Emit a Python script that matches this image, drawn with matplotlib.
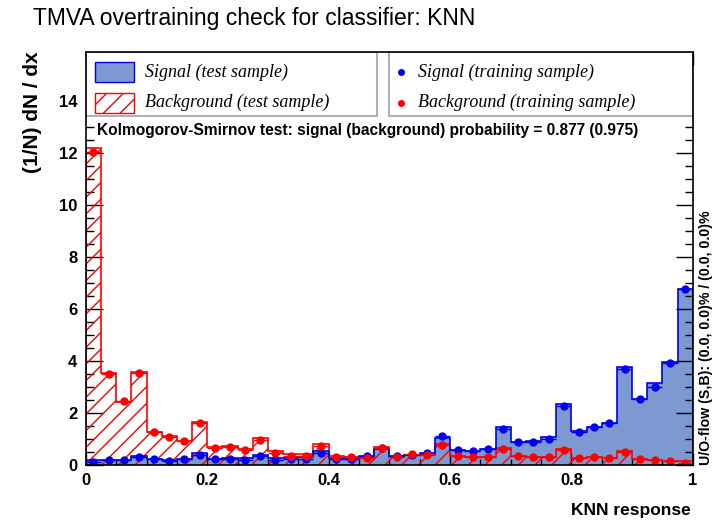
import numpy as np
import matplotlib
matplotlib.use("Agg")
import matplotlib.pyplot as plt
from matplotlib.patches import Rectangle
from matplotlib.ticker import MultipleLocator

# 40 bins on [0, 1]
edges = np.linspace(0, 1, 41)
centers = 0.5 * (edges[1:] + edges[:-1])

sig_test = [0.18, 0.20, 0.20, 0.33, 0.22, 0.20, 0.22, 0.45, 0.22, 0.26,
            0.26, 0.38, 0.26, 0.28, 0.30, 0.55, 0.26, 0.26, 0.35, 0.62,
            0.36, 0.40, 0.47, 1.05, 0.58, 0.55, 0.60, 1.45, 0.87, 0.92,
            1.08, 2.33, 1.31, 1.45, 1.60, 3.76, 2.53, 3.14, 3.95, 6.77]
sig_train = [0.12, 0.19, 0.19, 0.29, 0.22, 0.17, 0.22, 0.38, 0.22, 0.24,
             0.19, 0.36, 0.19, 0.22, 0.22, 0.45, 0.22, 0.22, 0.35, 0.64,
             0.35, 0.38, 0.45, 1.12, 0.58, 0.55, 0.60, 1.37, 0.87, 0.87,
             1.00, 2.27, 1.27, 1.47, 1.60, 3.70, 2.53, 3.01, 3.91, 6.77]
bkg_test = [12.20, 3.55, 2.42, 3.58, 1.26, 1.10, 0.94, 1.64, 0.70, 0.72,
            0.62, 1.03, 0.53, 0.41, 0.41, 0.80, 0.35, 0.30, 0.30, 0.68,
            0.32, 0.40, 0.40, 0.80, 0.36, 0.30, 0.30, 0.65, 0.36, 0.30,
            0.32, 0.62, 0.27, 0.29, 0.27, 0.55, 0.22, 0.19, 0.16, 0.15]
bkg_train = [12.05, 3.50, 2.47, 3.55, 1.26, 1.09, 0.92, 1.60, 0.65, 0.71,
             0.58, 0.96, 0.45, 0.35, 0.35, 0.73, 0.29, 0.29, 0.26, 0.64,
             0.32, 0.41, 0.39, 0.77, 0.35, 0.29, 0.29, 0.60, 0.36, 0.29,
             0.32, 0.58, 0.26, 0.29, 0.26, 0.49, 0.22, 0.19, 0.15, 0.09]

sig_fill = "#7d99d1"
sig_line = "#0000ee"
bkg_line = "#ff0000"

plt.rcParams["font.family"] = ["Liberation Sans", "DejaVu Sans"]
plt.rcParams["hatch.linewidth"] = 1.0

fig = plt.figure(figsize=(7.15, 5.27), dpi=100)
ax = fig.add_axes([0.120, 0.1176, 0.849, 0.7838])

ax.stairs(sig_test, edges, fill=True, color=sig_fill, zorder=1)
ax.stairs(bkg_test, edges, fill=True, facecolor="none", edgecolor=bkg_line,
          hatch="//", linewidth=0, zorder=2)
ax.stairs(bkg_test, edges, color=bkg_line, linewidth=1.2, zorder=3)
ax.stairs(sig_test, edges, color=sig_line, linewidth=1.2, zorder=3)

ax.errorbar(centers, sig_train, xerr=0.0125, fmt="o", color=sig_line,
            ms=5, elinewidth=1, capsize=0, zorder=4)
ax.errorbar(centers, bkg_train, xerr=0.0125, fmt="o", color=bkg_line,
            ms=5, elinewidth=1, capsize=0, zorder=4)


def xfmt(v, p):
    if abs(v) < 1e-9:
        return "0"
    if abs(v - 1) < 1e-9:
        return "1"
    return f"{v:.1f}"


ax.set_xlim(0, 1)
ax.set_ylim(0, 15.9)
ax.xaxis.set_major_locator(MultipleLocator(0.2))
ax.xaxis.set_minor_locator(MultipleLocator(0.05))
ax.yaxis.set_major_locator(MultipleLocator(2))
ax.yaxis.set_minor_locator(MultipleLocator(0.5))
ax.xaxis.set_major_formatter(xfmt)
ax.tick_params(which="both", direction="in", top=True, right=True, width=1, zorder=10)
ax.tick_params(axis="x", which="major", length=9, labelsize=12, pad=6)
ax.tick_params(axis="x", which="minor", length=4.5)
ax.tick_params(axis="y", which="major", length=12, labelsize=12, pad=6)
ax.tick_params(axis="y", which="minor", length=6)
for lab in ax.get_xticklabels() + ax.get_yticklabels():
    lab.set_fontweight("bold")
for s in ax.spines.values():
    s.set_linewidth(1.2)
    s.set_zorder(10)

# legend boxes
box_c = "#99a3b3"
ax.add_patch(Rectangle((0, 0.845), 0.479, 0.155, transform=ax.transAxes,
                       facecolor="white", edgecolor=box_c, lw=1.2, zorder=6))
ax.add_patch(Rectangle((0.50, 0.845), 0.50, 0.155, transform=ax.transAxes,
                       facecolor="white", edgecolor=box_c, lw=1.2, zorder=6))
ax.add_patch(Rectangle((0.015, 0.928), 0.065, 0.047, transform=ax.transAxes,
                       facecolor=sig_fill, edgecolor=sig_line, lw=1, zorder=7))
ax.add_patch(Rectangle((0.015, 0.853), 0.065, 0.047, transform=ax.transAxes,
                       facecolor="none", edgecolor=bkg_line, hatch="//", lw=1, zorder=7))
ax.plot([0.52], [0.951], "o", color=sig_line, ms=4, transform=ax.transAxes, zorder=7)
ax.plot([0.52], [0.877], "o", color=bkg_line, ms=4, transform=ax.transAxes, zorder=7)
lf = dict(family=["Liberation Serif", "DejaVu Serif"], style="italic", fontsize=13,
          va="center", transform=ax.transAxes, zorder=8)
ax.text(0.097, 0.951, "Signal (test sample)", **lf)
ax.text(0.097, 0.877, "Background (test sample)", **lf)
ax.text(0.547, 0.951, "Signal (training sample)", **lf)
ax.text(0.547, 0.877, "Background (training sample)", **lf)

ax.text(0.018, 0.809, "Kolmogorov-Smirnov test: signal (background) probability = 0.877 (0.975)",
        transform=ax.transAxes, fontsize=11.2, fontweight="bold", va="center", zorder=8)

fig.text(0.046, 0.965, "TMVA overtraining check for classifier: KNN", fontsize=16.5,
         va="center", ha="left")
fig.text(0.046, 0.903, "(1/N) dN / dx", rotation=90, fontsize=15, fontweight="bold",
         va="top", ha="center")
fig.text(0.966, 0.032, "KNN response", fontsize=12.5, fontweight="bold",
         va="center", ha="right")
fig.text(0.987, 0.1176, "U/O-flow (S,B): (0.0, 0.0)% / (0.0, 0.0)%", rotation=90,
         fontsize=10.2, fontweight="bold", va="bottom", ha="center")

fig.savefig("out.png", dpi=100)
